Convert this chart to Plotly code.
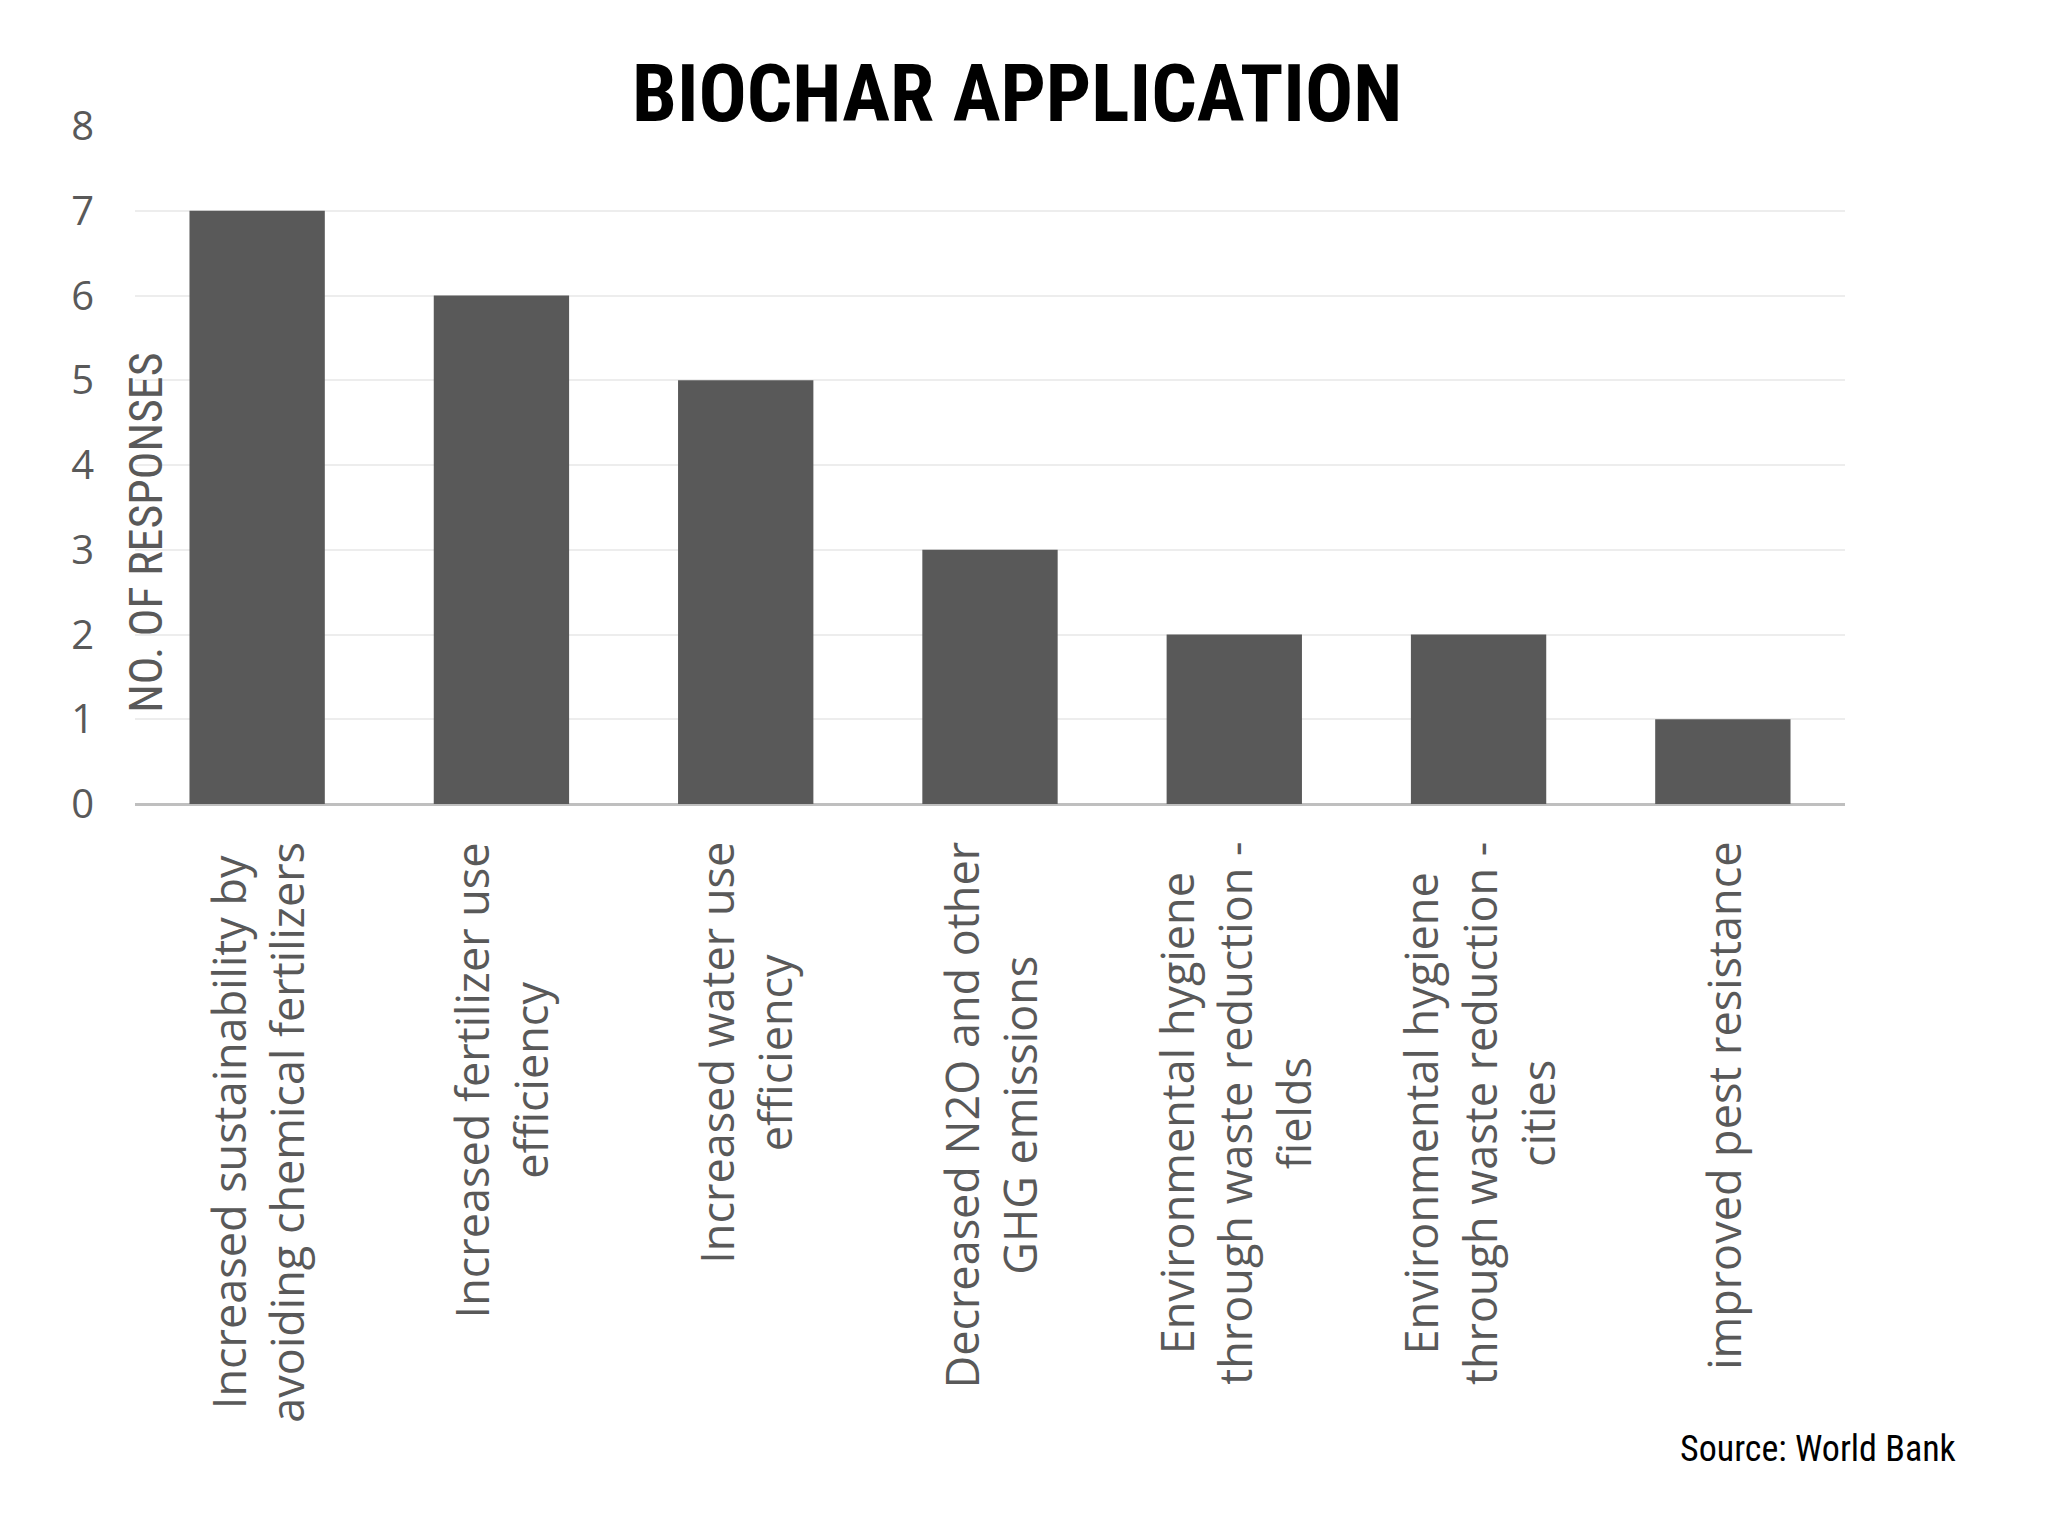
import plotly.graph_objects as go

categories = [
    "Increased sustainability by<br>avoiding chemical fertilizers",
    "Increased fertilizer use<br>efficiency",
    "Increased water use<br>efficiency",
    "Decreased N2O and other<br>GHG emissions",
    "Environmental hygiene<br>through waste reduction -<br>fields",
    "Environmental hygiene<br>through waste reduction -<br>cities",
    "improved pest resistance",
]
responses = [7, 6, 5, 3, 2, 2, 1]
y_ticks = [0, 1, 2, 3, 4, 5, 6, 7, 8]

title_text = "BIOCHAR APPLICATION"
y_title = "NO. OF RESPONSES"
source_text = "Source: World Bank"

GRAY = "#595959"
NARROW = "Liberation Sans Narrow, Roboto Condensed, Arial Narrow, sans-serif"
LABEL_FONT = "Open Sans, Noto Sans, sans-serif"

x_idx = list(range(len(categories)))

fig = go.Figure()
fig.add_trace(go.Bar(
    x=x_idx, y=responses,
    marker=dict(color=GRAY, line=dict(width=0)),
    width=0.554,
    hoverinfo="skip",
))

annotations = []
for i, lab in enumerate(categories):
    annotations.append(dict(
        x=i, y=0, xref="x", yref="paper",
        text=lab, textangle=-90, showarrow=False,
        xanchor="center", yanchor="top", yshift=-36, align="center",
        font=dict(family=LABEL_FONT, size=45, color=GRAY),
    ))

annotations.append(dict(
    x=0.5155, y=1.0465, xref="paper", yref="paper",
    text=title_text, showarrow=False, xanchor="center", yanchor="middle",
    font=dict(family=NARROW, size=80, color="#000000", weight="bold"),
))
annotations.append(dict(
    x=0.0064, y=0.40, xref="paper", yref="paper",
    text=y_title, textangle=-90, showarrow=False,
    xanchor="center", yanchor="middle",
    font=dict(family=NARROW, size=46, color=GRAY),
))
annotations.append(dict(
    x=1.0, y=-0.952, xref="paper", yref="paper",
    text=source_text, showarrow=False, xanchor="right", yanchor="middle",
    xshift=113,
    font=dict(family=NARROW, size=36, color="#000000"),
))

fig.update_layout(
    width=2048, height=1536,
    margin=dict(l=127, r=211, t=118, b=740),
    paper_bgcolor="white", plot_bgcolor="white",
    showlegend=False,
    bargap=0.446,
    annotations=annotations,
    xaxis=dict(
        range=[-0.5, len(categories) - 0.5],
        showticklabels=False, showgrid=False, zeroline=False,
        showline=False, ticks="",
    ),
    yaxis=dict(
        range=[0, 8], tickvals=y_ticks,
        showgrid=True, gridcolor="#EDEDED", gridwidth=2,
        zeroline=True, zerolinecolor="#BFBFBF", zerolinewidth=3,
        showline=False, ticks="",
        ticklabelstandoff=40,
        tickfont=dict(family=LABEL_FONT, size=40, color=GRAY),
    ),
)

fig.write_html("out.html")
